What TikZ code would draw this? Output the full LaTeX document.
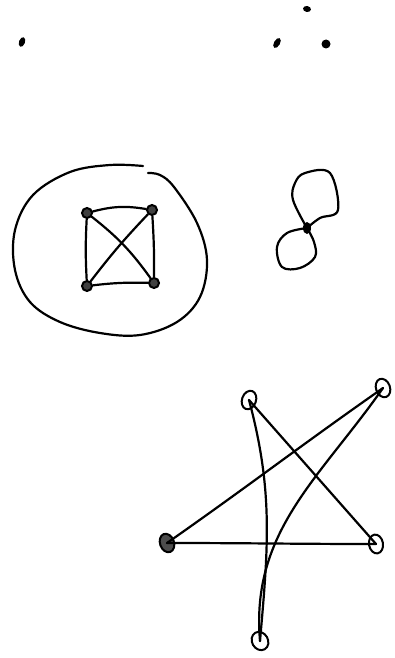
\documentclass[tikz,border=0pt]{standalone}
\usetikzlibrary{shapes.geometric}
\tikzset{
  dot/.style={ellipse,fill,inner sep=0pt,minimum width=6pt,minimum height=10pt},
  sqvtx/.style={circle,draw,fill=black!75,line width=2pt,inner sep=0pt,minimum size=10pt},
  starvtx/.style={ellipse,draw,line width=2pt,inner sep=0pt,minimum width=14pt,minimum height=19pt},
  pen/.style={line width=2.2pt,line cap=round,line join=round}
}
\begin{document}
\begin{tikzpicture}[x=1pt,y=-1pt]
    \useasboundingbox (0,0) rectangle (394,658);
    % isolated points
    \node[dot,rotate=-20] (p1) at (22,42) {};
    \node[dot,rotate=80,minimum height=8pt,minimum width=6pt] (p2) at (307,9) {};
    \node[dot,rotate=-30,minimum height=11pt] (p3) at (277,43) {};
    \node[dot,minimum width=9pt,minimum height=9pt] (p4) at (326,44) {};
    % K4 inside the blob
    \node[sqvtx] (a) at (87,213) {};
    \node[sqvtx] (b) at (152,210) {};
    \node[sqvtx] (c) at (87,286) {};
    \node[sqvtx] (d) at (154,283) {};
    \draw[pen] (a) to[bend left=12] (b);
    \draw[pen] (c) to[bend left=4] (d);
    \draw[pen] (a) to[bend right=3] (c);
    \draw[pen] (b) to[bend left=2] (d);
    \draw[pen] (a) to[bend left=8] (d);
    \draw[pen] (c) to[bend left=3] (b);
    \draw[pen] plot[smooth,tension=0.6] coordinates {(148,173) (160,175) (174,187) (197,223) (207,260)
      (200,297) (177,322) (140,335) (100,333) (60,322) (30,302) (15,270) (15,230) (33,195)
      (70,172) (110,165) (143,166)};
    % figure eight
    \node[dot,minimum width=8pt,minimum height=12pt] (e) at (307,228) {};
    \draw[pen] plot[smooth,tension=0.6] coordinates {(e) (293,200) (295,183) (305,173) (330,173)
      (338,210) (320,218) (e)};
    \draw[pen] plot[smooth,tension=0.6] coordinates {(e) (314,242) (315,257) (300,268) (282,267)
      (277,247) (287,233) (e)};
    % star
    \node[starvtx,rotate=-20] (s1) at (249,400) {};
    \node[starvtx,rotate=20] (s2) at (383,388) {};
    \node[starvtx,fill=black!70,rotate=20] (s3) at (167,543) {};
    \node[starvtx,rotate=10] (s4) at (376,544) {};
    \node[starvtx,rotate=30,minimum width=16pt] (s5) at (260,641) {};
    \draw[pen] (s2.center) to[out=215,in=35] (s3.center);
    \draw[pen] (s1.center) -- (s4.center);
    \draw[pen] (s3.center) to[out=0,in=180] (s4.center);
    \draw[pen] (s1.center) to[out=-75,in=85] (s5.center);
    \draw[pen] (s2.center) to[out=235,in=95] (s5.center);
\end{tikzpicture}
\end{document}
